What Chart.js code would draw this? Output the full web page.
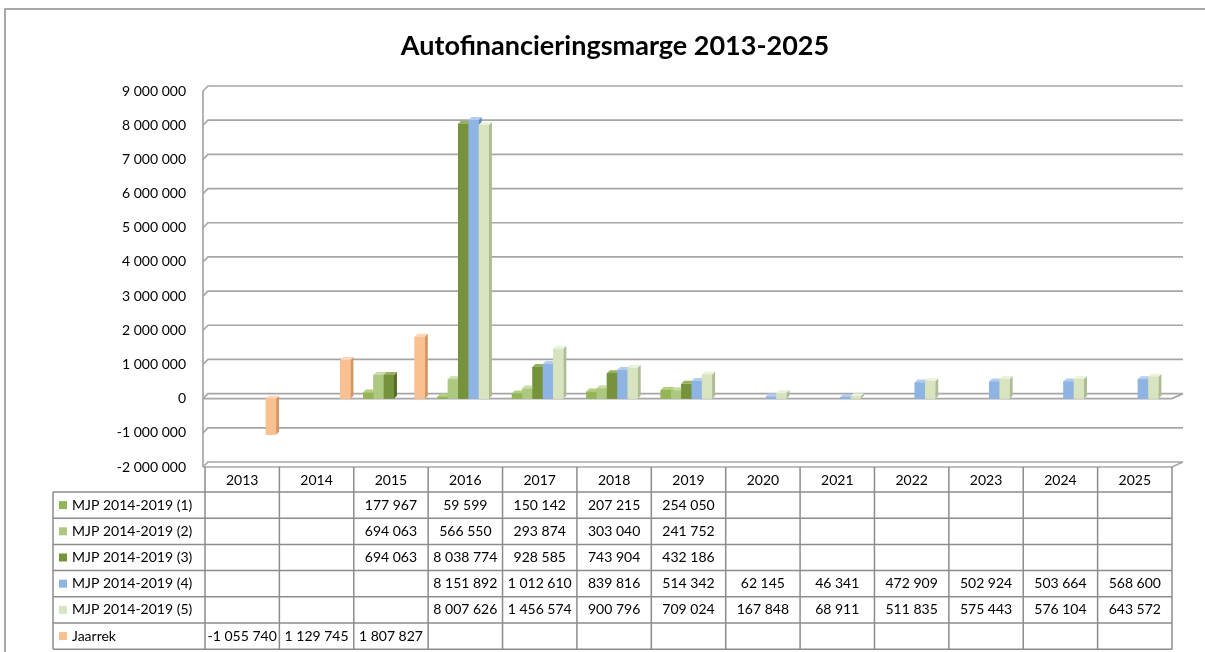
<!DOCTYPE html>
<html>
<head>
<meta charset="utf-8">
<script src="https://cdn.jsdelivr.net/npm/chart.js@4/dist/chart.umd.min.js"></script>
<style>
  html, body { margin: 0; padding: 0; background: #fff; }
  #wrap { position: relative; width: 1205px; height: 652px; }
</style>
</head>
<body>
<div id="wrap"><canvas id="chart" width="1205" height="652"></canvas></div>
<script>
// data (values come from the data table)
const years = ['2013', '2014', '2015', '2016', '2017', '2018', '2019', '2020', '2021', '2022', '2023', '2024', '2025'];
const seriesNames = ['MJP 2014-2019 (1)', 'MJP 2014-2019 (2)', 'MJP 2014-2019 (3)', 'MJP 2014-2019 (4)', 'MJP 2014-2019 (5)', 'Jaarrek'];
const mjp1 = [null, null, 177967, 59599, 150142, 207215, 254050, null, null, null, null, null, null];
const mjp2 = [null, null, 694063, 566550, 293874, 303040, 241752, null, null, null, null, null, null];
const mjp3 = [null, null, 694063, 8038774, 928585, 743904, 432186, null, null, null, null, null, null];
const mjp4 = [null, null, null, 8151892, 1012610, 839816, 514342, 62145, 46341, 472909, 502924, 503664, 568600];
const mjp5 = [null, null, null, 8007626, 1456574, 900796, 709024, 167848, 68911, 511835, 575443, 576104, 643572];
const jaarrek = [-1055740, 1129745, 1807827, null, null, null, null, null, null, null, null, null, null];
const yTicksMin = -2000000;
const yTicksMax = 9000000;
const yTickStep = 1000000;

const seriesValues = [mjp1, mjp2, mjp3, mjp4, mjp5, jaarrek];
const colors = ['#93b556', '#adc981', '#76933c', '#8db4e2', '#d8e4bf', '#fac08f'];
const sideColors = ['#6f8a3c', '#86a35a', '#566d29', '#6189bb', '#aebc95', '#d39766'];
const topColors = ['#b3cf80', '#c8dca6', '#97b25c', '#b3cdef', '#eaf1dc', '#fcd6b6'];

const FONT = 'Lato, "Open Sans", sans-serif';
const GRID = '#a6a6a6';
const SHIFT_X = 3;      // 3d perspective pushes the clusters a little right
const DEPTH = 3;        // bar depth in px

function fmt(v) {
  const s = Math.abs(Math.round(v)).toString().replace(/\B(?=(\d{3})+(?!\d))/g, ' ');
  return (v < 0 ? '-' : '') + s;
}

const backWall = {
  id: 'backWall',
  beforeDatasetsDraw(chart) {
    const ctx = chart.ctx;
    const y = chart.scales.y;
    const {left, right, top, bottom} = chart.chartArea;
    const farRight = right + 11;
    ctx.save();
    ctx.strokeStyle = GRID;
    ctx.lineWidth = 1.7;
    y.ticks.forEach(t => {
      const py = y.getPixelForValue(t.value);
      ctx.beginPath();
      ctx.moveTo(left - 2, py);
      ctx.lineTo(left + 3, py - 5);
      ctx.lineTo(farRight, py - 5);
      ctx.stroke();
    });
    // floor front edge and zero plane front edge
    [bottom, y.getPixelForValue(0)].forEach(py => {
      ctx.beginPath();
      ctx.moveTo(left - 2, py);
      ctx.lineTo(right, py);
      ctx.lineTo(farRight, py - 5);
      ctx.stroke();
    });
    // vertical axis line
    ctx.beginPath();
    ctx.moveTo(left - 2, top);
    ctx.lineTo(left - 2, bottom);
    ctx.stroke();
    ctx.restore();

    ctx.save();
    ctx.translate(SHIFT_X, 0);
  },
  afterDatasetsDraw(chart) {
    const ctx = chart.ctx;
    const metas = chart.data.datasets.map((d, i) => chart.getDatasetMeta(i));
    for (let j = 0; j < years.length; j++) {
      metas.forEach((meta, i) => {
        if (chart.data.datasets[i].data[j] == null) return;
        const el = meta.data[j];
        const p = el.getProps(['x', 'y', 'base', 'width'], true);
        const x0 = p.x - p.width / 2, x1 = p.x + p.width / 2;
        const t = Math.min(p.y, p.base), b = Math.max(p.y, p.base);
        ctx.fillStyle = sideColors[i];
        ctx.beginPath();
        ctx.moveTo(x1, t);
        ctx.lineTo(x1 + DEPTH, t - DEPTH);
        ctx.lineTo(x1 + DEPTH, b - DEPTH);
        ctx.lineTo(x1, b);
        ctx.closePath();
        ctx.fill();
        ctx.fillStyle = topColors[i];
        ctx.beginPath();
        ctx.moveTo(x0, t);
        ctx.lineTo(x0 + DEPTH, t - DEPTH);
        ctx.lineTo(x1 + DEPTH, t - DEPTH);
        ctx.lineTo(x1, t);
        ctx.closePath();
        ctx.fill();
        el.draw(ctx);
      });
    }
    ctx.restore();
  }
};

const dataTable = {
  id: 'dataTable',
  afterDraw(chart) {
    const ctx = chart.ctx;
    const x = chart.scales.x;
    const {left, right, bottom} = chart.chartArea;
    const n = years.length;
    const colW = (right - left) / n;
    const rowH = 26.2;
    const headBottom = bottom + 25;
    const tableLeft = 53;
    const tableBottom = headBottom + rowH * seriesNames.length;

    ctx.save();
    ctx.strokeStyle = '#8c8c8c';
    ctx.lineWidth = 1.5;
    // vertical lines
    for (let k = 0; k <= n; k++) {
      const vx = left + k * colW;
      ctx.beginPath();
      ctx.moveTo(vx, bottom);
      ctx.lineTo(vx, tableBottom);
      ctx.stroke();
    }
    ctx.beginPath();
    ctx.moveTo(tableLeft, headBottom);
    ctx.lineTo(tableLeft, tableBottom);
    ctx.stroke();
    // horizontal lines
    for (let r = 0; r <= seriesNames.length; r++) {
      const hy = headBottom + r * rowH;
      ctx.beginPath();
      ctx.moveTo(tableLeft, hy);
      ctx.lineTo(right, hy);
      ctx.stroke();
    }

    ctx.font = '14px ' + FONT;
    ctx.textBaseline = 'middle';
    ctx.fillStyle = '#000';
    ctx.textAlign = 'center';
    years.forEach((yr, j) => {
      ctx.fillText(yr, x.getPixelForValue(j), bottom + 13);
    });

    seriesNames.forEach((name, r) => {
      const cy = headBottom + r * rowH + rowH / 2;
      ctx.fillStyle = colors[r];
      ctx.fillRect(59, cy - 4, 8, 8);
      ctx.fillStyle = '#000';
      ctx.textAlign = 'left';
      ctx.fillText(name, 72, cy);
      seriesValues[r].forEach((v, j) => {
        if (v == null) return;
        const cx0 = left + j * colW;
        const txt = fmt(v);
        const w = ctx.measureText(txt).width;
        ctx.save();
        ctx.beginPath();
        ctx.rect(cx0 + 1, cy - rowH / 2, colW - 2, rowH);
        ctx.clip();
        if (w > colW - 4) {
          ctx.textAlign = 'left';
          ctx.fillText(txt, cx0 + 2, cy);
        } else {
          ctx.textAlign = 'center';
          ctx.fillText(txt, cx0 + colW / 2, cy);
        }
        ctx.restore();
      });
    });

    // chart frame
    ctx.strokeStyle = '#8c8c8c';
    ctx.lineWidth = 1.5;
    ctx.beginPath();
    ctx.moveTo(1205, 9);
    ctx.lineTo(5, 9);
    ctx.lineTo(5, 652);
    ctx.stroke();

    // title
    ctx.fillStyle = '#000';
    ctx.font = 'bold 27px ' + FONT;
    ctx.textAlign = 'center';
    ctx.fillText('Autofinancieringsmarge 2013-2025', 615, 46);
    ctx.restore();
  }
};

new Chart(document.getElementById('chart'), {
  type: 'bar',
  data: {
    labels: years,
    datasets: seriesNames.map((name, i) => ({
      label: name,
      data: seriesValues[i],
      backgroundColor: colors[i],
      borderWidth: 0,
      categoryPercentage: 0.83,
      barPercentage: 1
    }))
  },
  options: {
    responsive: false,
    animation: false,
    layout: { padding: { top: 91, bottom: 185, left: 0, right: 33 } },
    plugins: {
      legend: { display: false },
      title: { display: false },
      tooltip: { enabled: false }
    },
    scales: {
      x: {
        grid: { display: false },
        border: { display: false },
        ticks: { display: false },
        afterFit: (scale) => { scale.height = 0; }
      },
      y: {
        min: yTicksMin,
        max: yTicksMax,
        grid: { display: false },
        border: { display: false },
        ticks: {
          stepSize: yTickStep,
          color: '#000',
          font: { family: FONT, size: 14 },
          padding: 11,
          callback: (v) => fmt(v)
        },
        afterFit: (scale) => { scale.width = 205; }
      }
    }
  },
  plugins: [backWall, dataTable]
});
</script>
</body>
</html>
